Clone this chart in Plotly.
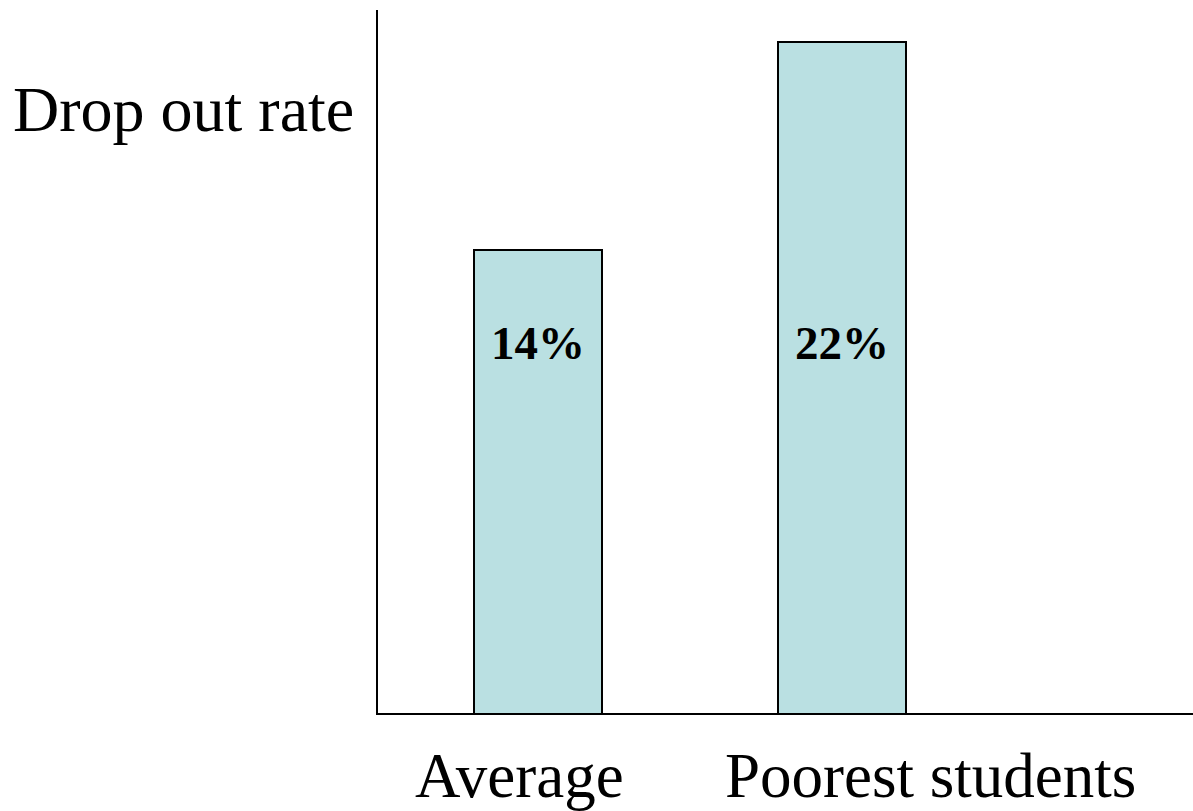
import plotly.graph_objects as go

# Drop-out rates by group (percent)
categories = ["Average", "Poorest students"]
drop_out_rates = [14, 22]
axis_title = "Drop out rate"

bar_fill = "#BAE0E2"
serif = "Liberation Serif, Times New Roman, serif"

fig = go.Figure()
fig.add_trace(go.Bar(
    x=categories,
    y=drop_out_rates,
    width=0.42,
    marker=dict(color=bar_fill, line=dict(color="black", width=2)),
    hoverinfo="skip",
))

annotations = [
    dict(text=axis_title, xref="paper", yref="paper", x=-0.027, y=0.859,
         xanchor="right", yanchor="middle", showarrow=False,
         font=dict(family=serif, size=64, color="black")),
]

# value labels inside the bars, all at the same height
for cat, val in zip(categories, drop_out_rates):
    annotations.append(dict(
        text=f"<b>{val}%</b>", x=cat, xref="x", yref="paper", y=0.527,
        xanchor="center", yanchor="middle", showarrow=False,
        font=dict(family=serif, size=47, color="black")))

# category labels under the axis
label_offsets = [-0.06, 0.29]
for i, (cat, off) in enumerate(zip(categories, label_offsets)):
    annotations.append(dict(
        text=cat, x=i + off, xref="x", yref="paper", y=-0.089,
        xanchor="center", yanchor="middle", showarrow=False,
        font=dict(family=serif, size=63, color="black")))

fig.update_layout(
    width=1193, height=811,
    margin=dict(l=378, r=0, t=10, b=98),
    paper_bgcolor="white", plot_bgcolor="white",
    showlegend=False,
    bargap=0,
    annotations=annotations,
    xaxis=dict(range=[-0.526, 2.155], showline=True, linecolor="black", linewidth=2,
               showticklabels=False, ticks="", showgrid=False, zeroline=False,
               fixedrange=True),
    yaxis=dict(type="log", range=[0.7092, 1.3726], showline=True, linecolor="black",
               linewidth=2, showticklabels=False, ticks="", showgrid=False,
               zeroline=False, fixedrange=True),
)

fig.write_html("out.html")
